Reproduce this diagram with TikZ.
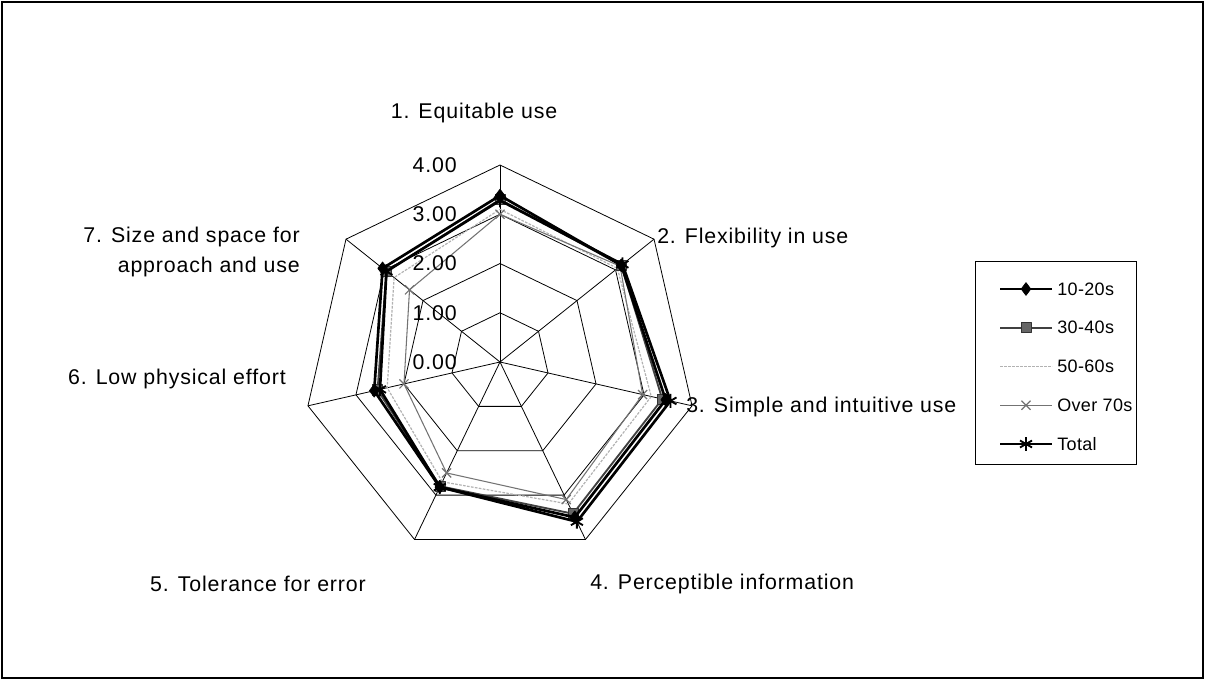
\documentclass[tikz,border=0pt]{standalone}
\usepackage{fontspec}
\setmainfont{Liberation Sans}[LetterSpace=4]
\usetikzlibrary{plotmarks}

% radius of one scale unit (in px)
\def\U{49.25}
% one closed radar polygon: style, then the seven values
\newcommand\rseries[8]{%
  \draw[#1] plot coordinates {(90:{#2*\U}) (38.5714:{#3*\U}) (-12.8571:{#4*\U})
    (-64.2857:{#5*\U}) (-115.7143:{#6*\U}) (-167.1429:{#7*\U}) (141.4286:{#8*\U})} -- cycle;}

\tikzset{
  lbl/.style={font=\fontsize{16}{23}\selectfont, inner sep=0pt},
  leglbl/.style={font=\fontsize{13.5}{16}\selectfont\addfontfeature{LetterSpace=2}, inner sep=0pt},
  grid/.style={line width=0.6pt, black},
  sA/.style={line width=2pt, black, line join=round,
    mark=diamond*, mark size=4.8pt, mark options={solid, fill=black, line width=0.5pt}},
  sB/.style={line width=1.4pt, black!75, line join=round,
    mark=square*, mark size=3.8pt, mark options={solid, fill=black!60, draw=black!80, line width=0.6pt}},
  sC/.style={line width=0.9pt, black!30, dash pattern=on 2pt off 1pt, line join=round},
  sD/.style={line width=0.8pt, black!55, line join=round,
    mark=x, mark size=4.8pt, mark options={solid, black!55, line width=0.9pt}},
  sE/.style={line width=2pt, black, line join=round,
    mark=asterisk, mark size=5.2pt, mark options={solid, black, line width=1.4pt}},
}

\begin{document}
\begin{tikzpicture}[x=0.75pt, y=-0.75pt]
\useasboundingbox (0,0) rectangle (1205,680);
\draw[line width=1.2pt] (2,2) rectangle (1203,678);

\begin{scope}[shift={(500,362)}, yscale=-1]
  % rings and spokes
  \foreach \r in {1,...,4}
    \draw[grid] (90:{\r*\U}) \foreach \k in {1,...,6}{ -- ({90-\k*360/7}:{\r*\U}) } -- cycle;
  \foreach \k in {0,...,6}
    \draw[grid] (0,0) -- ({90-\k*360/7}:{4*\U});
  % data
  \rseries{sC}{3.10}{3.05}{3.15}{3.20}{2.70}{2.35}{2.75}
  \rseries{sD}{3.00}{3.12}{2.97}{3.10}{2.50}{2.00}{2.35}
  \rseries{sB}{3.30}{3.15}{3.38}{3.42}{2.80}{2.55}{2.95}
  \rseries{sE}{3.28}{3.18}{3.55}{3.60}{2.82}{2.50}{2.95}
  \rseries{sA}{3.38}{3.15}{3.45}{3.50}{2.82}{2.62}{3.05}
\end{scope}

% scale labels
\foreach \v [count=\i from 0] in {0.00,1.00,2.00,3.00,4.00}
  \node[lbl, anchor=east] (scale\i) at (457,{362-\i*\U}) {\v};

% axis labels
\node[lbl] (ax1) at (474,113) {1. Equitable use};
\node[lbl, anchor=west] (ax2) at (657,238) {2. Flexibility in use};
\node[lbl, anchor=west] (ax3) at (686,407) {3. Simple and intuitive use};
\node[lbl, anchor=west] (ax4) at (590,584) {4. Perceptible information};
\node[lbl, anchor=east] (ax5) at (366,584) {5. Tolerance for error};
\node[lbl, anchor=east] (ax6) at (286,379) {6. Low physical effort};
\node[lbl, anchor=east, align=right] (ax7) at (300,252) {7. Size and space for\\approach and use};

% legend
\draw[line width=0.7pt] (975,261) rectangle (1136,464);
\foreach \s/\t [count=\i from 0] in {sA/10-20s, sB/30-40s, sC/50-60s, sD/Over 70s, sE/Total}{
  \coordinate (legA\i) at (1000,{289+\i*38.75});
  \coordinate (legB\i) at (1052,{289+\i*38.75});
  \draw[\s, mark=none] (legA\i) -- (legB\i);
  \draw[\s] plot coordinates {(1026,{289+\i*38.75})};
  \node[leglbl, anchor=west] (leg\i) at (1057,{289+\i*38.75}) {\t};
}
\end{tikzpicture}
\end{document}
